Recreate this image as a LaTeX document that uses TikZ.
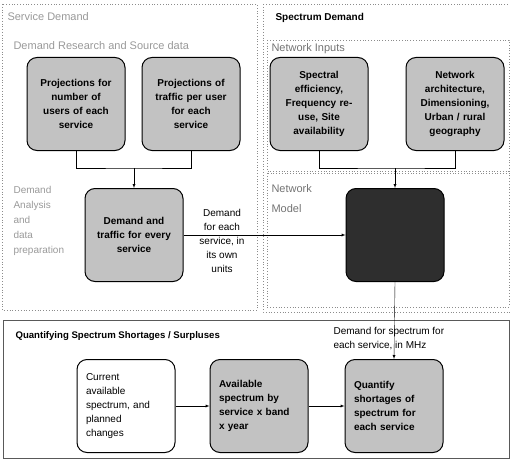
\documentclass[tikz,border=0pt]{standalone}
\usepackage{fontspec}
\setmainfont{Liberation Sans}
\usetikzlibrary{positioning,arrows}

\tikzset{
  rbox/.style={draw, line width=1pt, rounded corners=10pt, align=center,
    minimum width=98pt, minimum height=93pt, text width=86pt,
    font=\bfseries\fontsize{10}{14}\selectfont},
  lbox/.style={rbox, align=left, text width=80pt},
  dotfill/.style={fill=black!24},
  darkfill/.style={fill=black!82},
  area/.style={draw=black!45, dotted, line width=0.8pt},
  faint/.style={text=black!40, font=\fontsize{11}{22}\selectfont, anchor=north west, align=left},
  head/.style={font=\bfseries\fontsize{10}{12}\selectfont, anchor=west},
  note/.style={font=\fontsize{10}{14}\selectfont, align=center}
}

\begin{document}
\begin{tikzpicture}[x=1pt,y=-1pt]
\useasboundingbox (0,0) rectangle (510,465);
% regions
\draw[area] (2,4) rectangle (257,310);
\draw[area] (263,4) rectangle (510,312);
\draw[area] (267,40) rectangle (509,171);
\draw[area] (267,173) rectangle (509,307);
\draw[draw=black!65, line width=0.9pt] (3,320) rectangle (509,458);

\node[faint] (sdlab) at (4,9) {Service Demand};
\node[faint] (drlab) at (10,38) {Demand Research and Source data};
\node[faint, font=\fontsize{10}{15}\selectfont] (dalab) at (10,183) {Demand\\Analysis\\and\\data\\preparation};
\node[head] (spdlab) at (272,18) {Spectrum Demand};
\node[faint, text=black!55] (nilab) at (268,40) {Network Inputs};
\node[faint, text=black!55, font=\fontsize{11}{20}\selectfont] (nmlab) at (268,181) {Network\\Model};
\node[head, font=\bfseries\fontsize{9.6}{12}\selectfont] (qlab) at (12,336) {Quantifying Spectrum Shortages / Surpluses};

% boxes
\node[rbox, dotfill] (users) at (76,104) {Projections for\\number of\\users of each\\service};
\node[rbox, dotfill] (traffic) at (191,104) {Projections of\\traffic per user\\for each\\service};
\node[rbox, dotfill] (demand) at (134,235) {Demand and\\traffic for every\\service\\[14pt]};
\node[rbox, dotfill] (effic) at (319,104) {Spectral\\efficiency,\\Frequency re-\\use, Site\\availability};
\node[rbox, dotfill] (arch) at (455,104) {Network\\architecture,\\Dimensioning,\\Urban / rural\\geography};
\node[rbox, darkfill] (model) at (395,235) {};
\node[lbox, font=\fontsize{10}{14}\selectfont] (current) at (126,406) {Current\\available\\spectrum, and\\planned\\changes};
\node[lbox, dotfill] (avail) at (259,406) {Available\\spectrum by\\service x band\\x year\\[4pt]};
\node[lbox, dotfill] (quant) at (394,406) {Quantify\\shortages of\\spectrum for\\each service\\[4pt]};

% connectors
\coordinate (jl) at (134,168);
\coordinate (jr) at (395,168);
\draw (users.south) |- (jl) -| (traffic.south);
\draw[-latex] (jl) -- (demand.north);
\draw (effic.south) |- (jr) -| (arch.south);
\draw[-latex] (jr) -- (model.north);
\draw[-latex] (demand.east) -- (model.west);
\draw[-latex] (model.south) -- (quant.north);
\draw[-latex] (current) -- (avail);
\draw[-latex] (avail) -- (quant);

\node[note] (ownunits) at (222,241) {Demand\\for each\\service, in\\its own\\units};
\node[note, align=left, anchor=north west] (mhz) at (330,324) {Demand for spectrum for\\each service, in MHz};
\end{tikzpicture}
\end{document}
